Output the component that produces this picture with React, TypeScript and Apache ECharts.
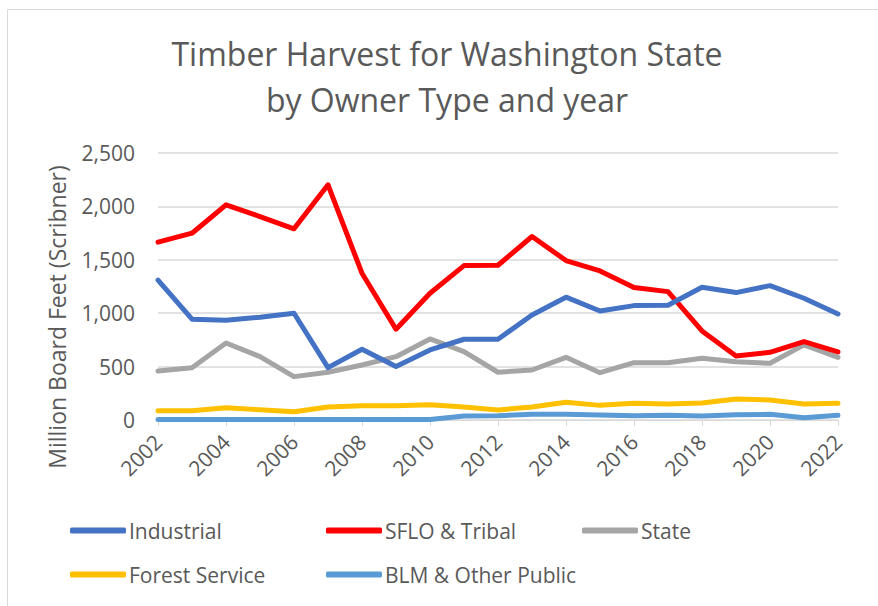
import React, { useEffect, useRef } from "react";
import * as echarts from "echarts";

const years = ["2002","2003","2004","2005","2006","2007","2008","2009","2010","2011","2012","2013","2014","2015","2016","2017","2018","2019","2020","2021","2022"];
const industrial = [1310, 944, 934, 962, 1000, 490, 662, 500, 656, 756, 756, 984, 1150, 1021, 1071, 1074, 1243, 1193, 1258, 1140, 993];
const sfloTribal = [1665, 1749, 2015, 1905, 1790, 2202, 1374, 850, 1187, 1446, 1449, 1718, 1493, 1396, 1240, 1202, 834, 600, 634, 734, 637];
const stateVals = [459, 490, 721, 593, 406, 447, 515, 593, 759, 640, 447, 468, 587, 443, 537, 537, 578, 546, 531, 703, 587];
const forestService = [87, 87, 115, 96, 78, 122, 134, 134, 143, 122, 94, 122, 166, 137, 156, 150, 159, 197, 187, 150, 156];
const blmOther = [4, 4, 4, 4, 4, 4, 4, 4, 4, 37, 40, 53, 53, 47, 40, 44, 37, 50, 53, 22, 44];

const seriesNames = ["Industrial", "SFLO & Tribal", "State", "Forest Service", "BLM & Other Public"];
const seriesColors = ["#4472C4", "#FF0000", "#A5A5A5", "#FFC000", "#5B9BD5"];
const seriesData = [industrial, sfloTribal, stateVals, forestService, blmOther];
const yAxisTitle = "Million Board Feet (Scribner)";
const chartTitle = "Timber Harvest for Washington State\nby Owner Type and year";

const textColor = "#595959";
const font = "'Open Sans', sans-serif";

export default function App() {
  const ref = useRef<HTMLDivElement>(null);
  useEffect(() => {
    if (!ref.current) return;
    const chart = echarts.init(ref.current, null, { renderer: "svg" });
    const legendPos = [
      { left: 70, top: 520 },
      { left: 326, top: 520 },
      { left: 582, top: 520 },
      { left: 70, top: 564 },
      { left: 326, top: 564 },
    ];
    chart.setOption({
      animation: false,
      backgroundColor: "#ffffff",
      title: {
        text: chartTitle,
        left: 447,
        textAlign: "center",
        top: 30,
        padding: 0,
        textStyle: {
          color: textColor,
          fontFamily: font,
          fontWeight: "normal",
          fontSize: 32,
          lineHeight: 46,
        },
      },
      graphic: [
        {
          type: "rect",
          shape: { x: 7.5, y: 9.5, width: 1000, height: 1000 },
          style: { fill: "none", stroke: "#D9D9D9", lineWidth: 1 },
          silent: true,
        },
        {
          type: "text",
          x: 57,
          y: 317,
          rotation: Math.PI / 2,
          silent: true,
          style: {
            text: yAxisTitle,
            fill: textColor,
            font: "23px " + font,
            align: "center",
            verticalAlign: "middle",
          },
        },
      ],
      legend: seriesNames.map((n, i) => ({
        data: [n],
        left: legendPos[i].left,
        top: legendPos[i].top,
        padding: 0,
        icon: "roundRect",
        itemWidth: 56,
        itemHeight: 6,
        selectedMode: false,
        textStyle: { color: textColor, fontFamily: font, fontSize: 21, padding: [0, 0, 0, -2] },
      })),
      grid: { left: 158, right: 40, top: 153, bottom: 186, containLabel: false },
      xAxis: {
        type: "category",
        data: years,
        boundaryGap: false,
        axisLine: { show: true, lineStyle: { color: "#D9D9D9", width: 1 } },
        axisTick: { show: true, interval: 1, length: 6, lineStyle: { color: "#D9D9D9" } },
        axisLabel: {
          interval: 1,
          rotate: 45,
          color: textColor,
          fontFamily: font,
          fontSize: 21,
          margin: 18,
        },
        splitLine: { show: false },
      },
      yAxis: {
        type: "value",
        min: 0,
        max: 2500,
        interval: 500,
        axisLine: { show: false },
        axisTick: { show: false },
        axisLabel: {
          color: textColor,
          fontFamily: font,
          fontSize: 21,
          margin: 23,
          formatter: (v: number) => v.toLocaleString("en-US"),
        },
        splitLine: { lineStyle: { color: "#D9D9D9", width: 1.5 } },
      },
      series: seriesNames.map((n, i) => ({
        name: n,
        type: "line",
        data: seriesData[i],
        showSymbol: false,
        symbol: "none",
        color: seriesColors[i],
        lineStyle: { width: 5, color: seriesColors[i], cap: "round", join: "round" },
        z: 10 - i,
      })),
    });
    return () => chart.dispose();
  }, []);
  return (
    <div
      ref={ref}
      style={{ position: "absolute", left: 0, top: 0, width: 878, height: 606 }}
    />
  );
}
